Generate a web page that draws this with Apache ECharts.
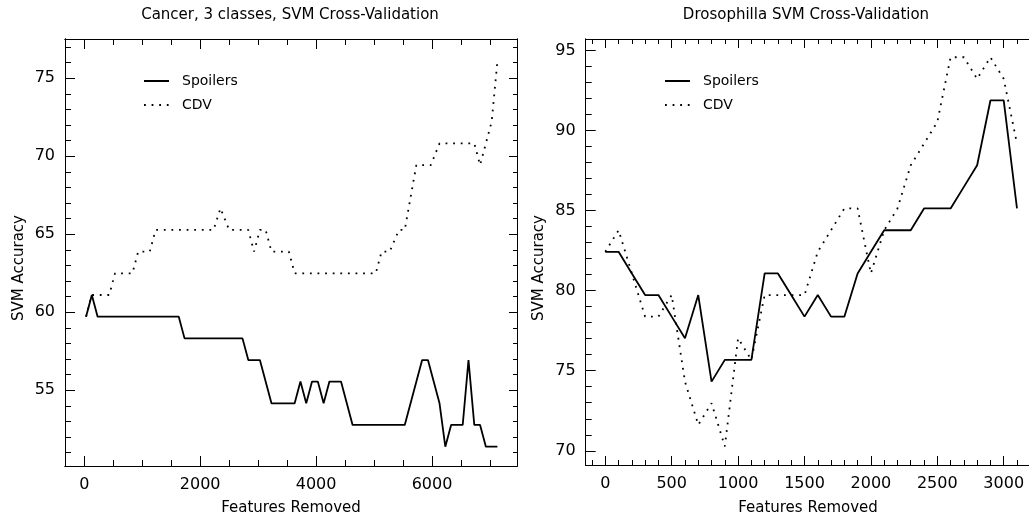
<!DOCTYPE html>
<html><head><meta charset="utf-8">
<script src="https://cdn.jsdelivr.net/npm/echarts@6/dist/echarts.min.js"></script>
<style>html,body{margin:0;padding:0;background:#fff}#c{width:1029px;height:516px}</style>
</head><body><div id="c"></div>
<script>
// ---- Data: left panel (Cancer, 3 classes) ----
const cancerSpoilersX = [30,130,230,1630,1730,2730,2830,3030,3230,3630,3730,3830,3930,4030,4130,4230,4430,4630,5530,5830,5930,6130,6230,6330,6530,6630,6730,6830,6930,7129];
const cancerSpoilersY = [59.72,61.11,59.72,59.72,58.33,58.33,56.94,56.94,54.17,54.17,55.56,54.17,55.56,55.56,54.17,55.56,55.56,52.78,52.78,56.94,56.94,54.17,51.39,52.78,52.78,56.94,52.78,52.78,51.39,51.39];
const cancerCdvX = [30,130,430,530,830,930,1130,1230,2230,2350,2500,2830,2930,3030,3130,3230,3530,3630,5030,5130,5270,5430,5530,5730,5980,6130,6730,6830,6930,7030,7129];
const cancerCdvY = [59.72,61.11,61.11,62.5,62.5,63.89,63.89,65.28,65.28,66.67,65.28,65.28,63.89,65.28,65.28,63.89,63.89,62.5,62.5,63.89,63.89,65.28,65.28,69.44,69.44,70.83,70.83,69.44,70.83,72.22,76.1];
// ---- Data: right panel (Drosophilla) ----
const drosoX = [0,100,200,300,400,500,600,700,800,900,1000,1100,1200,1300,1400,1500,1600,1700,1800,1900,2000,2100,2200,2300,2400,2500,2600,2700,2800,2900,3000,3100];
const drosoSpoilersY = [82.43,82.43,81.08,79.73,79.73,78.38,77.03,79.73,74.32,75.68,75.68,75.68,81.08,81.08,79.73,78.38,79.73,78.38,78.38,81.08,82.43,83.78,83.78,83.78,85.14,85.14,85.14,86.49,87.84,91.89,91.89,85.14];
const drosoCdvY = [82.43,83.78,81.08,78.38,78.38,79.73,74.32,71.62,72.97,70.27,77.03,75.68,79.73,79.73,79.73,79.73,82.43,83.78,85.14,85.14,81.08,83.78,85.14,87.84,89.19,90.54,94.59,94.59,93.24,94.59,93.24,89.19];
// ---- Tick values ----
const cancerXMajor = [0,2000,4000,6000];
const cancerXMinor = [0,500,1000,1500,2000,2500,3000,3500,4000,4500,5000,5500,6000,6500,7000];
const cancerYMajor = [55,60,65,70,75];
const cancerYMinor = [51,52,53,54,55,56,57,58,59,60,61,62,63,64,65,66,67,68,69,70,71,72,73,74,75,76,77];
const drosoXMajor = [0,500,1000,1500,2000,2500,3000];
const drosoXMinor = [-100,0,100,200,300,400,500,600,700,800,900,1000,1100,1200,1300,1400,1500,1600,1700,1800,1900,2000,2100,2200,2300,2400,2500,2600,2700,2800,2900,3000,3100];
const drosoYMajor = [70,75,80,85,90,95];
const drosoYMinor = [70,71,72,73,74,75,76,77,78,79,80,81,82,83,84,85,86,87,88,89,90,91,92,93,94,95];

const FONT = 'DejaVu Sans';
const zip = (xs, ys) => xs.map((x, i) => [x, ys[i]]);
const plain = v => String(v);

function xAxes(g, min, max, major, minor, majLen, minLen) {
  const base = { type: 'value', gridIndex: g, min, max, splitLine: { show: false },
    axisLine: { show: true, onZero: false, lineStyle: { color: '#000', width: 1 } } };
  return [
    Object.assign({}, base, { position: 'bottom',
      axisTick: { inside: true, length: majLen, customValues: major, lineStyle: { color: '#000' } },
      axisLabel: { customValues: major, formatter: plain, margin: 11, color: '#000', fontFamily: FONT, fontSize: 16 } }),
    Object.assign({}, base, { position: 'bottom',
      axisTick: { inside: true, length: minLen, customValues: minor, lineStyle: { color: '#000' } },
      axisLabel: { show: false } }),
    Object.assign({}, base, { position: 'top',
      axisTick: { inside: true, length: majLen, customValues: major, lineStyle: { color: '#000' } },
      axisLabel: { show: false } }),
    Object.assign({}, base, { position: 'top',
      axisTick: { inside: true, length: minLen, customValues: minor, lineStyle: { color: '#000' } },
      axisLabel: { show: false } })
  ];
}
function yAxes(g, min, max, major, minor, majLen, minLen, rMaj, rMin, showRight) {
  const base = { type: 'value', gridIndex: g, min, max, splitLine: { show: false },
    axisLine: { show: true, onZero: false, lineStyle: { color: '#000', width: 1 } } };
  return [
    Object.assign({}, base, { position: 'left',
      axisTick: { inside: true, length: majLen, customValues: major, lineStyle: { color: '#000' } },
      axisLabel: { customValues: major, formatter: plain, margin: 10, color: '#000', fontFamily: FONT, fontSize: 16 } }),
    Object.assign({}, base, { position: 'left',
      axisTick: { inside: true, length: minLen, customValues: minor, lineStyle: { color: '#000' } },
      axisLabel: { show: false } }),
    Object.assign({}, base, { position: 'right', show: showRight,
      axisTick: { inside: true, length: rMaj, customValues: major, lineStyle: { color: '#000' } },
      axisLabel: { show: false } }),
    Object.assign({}, base, { position: 'right', show: showRight,
      axisTick: { inside: true, length: rMin, customValues: minor, lineStyle: { color: '#000' } },
      axisLabel: { show: false } })
  ];
}

const solid = { color: '#000', width: 1.8, type: 'solid' };
const dotted = { color: '#000', width: 1.8, type: [1.8, 5.8] };
function ser(name, data, xi, yi, ls) {
  return { name, type: 'line', data, xAxisIndex: xi, yAxisIndex: yi, symbol: 'none', showSymbol: false,
    lineStyle: ls, itemStyle: { color: '#000' }, animation: false, silent: true };
}
function legendAt(left) {
  return { left, top: 74, padding: 0, orient: 'vertical', itemWidth: 25, itemHeight: 14, itemGap: 10,
    selectedMode: false, data: ['Spoilers', 'CDV'],
    itemStyle: { opacity: 0 },
    textStyle: { color: '#000', fontFamily: FONT, fontSize: 14, padding: [0, 0, 0, 8] } };
}

const txt = (text, x, y, size, rot) => ({ type: 'text', x, y, rotation: rot || 0,
  style: { text, fill: '#000', font: size + 'px "' + FONT + '"', textAlign: 'center', textVerticalAlign: 'middle' } });

const chart = echarts.init(document.getElementById('c'), null, { renderer: 'canvas' });
chart.setOption({
  animation: false,
  backgroundColor: '#fff',
  grid: [
    { left: 65, top: 39, width: 452, height: 427 },
    { left: 585.7, top: 39, width: 443.3, height: 426 }
  ],
  xAxis: [].concat(
    xAxes(0, -333, 7467, cancerXMajor, cancerXMinor, 10, 6),
    xAxes(1, -147.5, 3190.5, drosoXMajor, drosoXMinor, 9, 5)
  ),
  yAxis: [].concat(
    yAxes(0, 50.15, 77.52, cancerYMajor, cancerYMinor, 10, 6, 8, 4, true),
    yAxes(1, 69.11, 95.73, drosoYMajor, drosoYMinor, 10, 6, 8, 4, false)
  ),
  legend: [legendAt(143), legendAt(664)],
  series: [
    ser('Spoilers', zip(cancerSpoilersX, cancerSpoilersY), 0, 0, solid),
    ser('CDV', zip(cancerCdvX, cancerCdvY), 0, 0, dotted),
    ser('Spoilers', zip(drosoX, drosoSpoilersY), 4, 4, solid),
    ser('CDV', zip(drosoX, drosoCdvY), 4, 4, dotted)
  ],
  graphic: [
    txt('Cancer, 3 classes, SVM Cross-Validation', 290, 15, 15),
    txt('Drosophilla SVM Cross-Validation', 806, 15, 15),
    txt('Features Removed', 291, 508, 15),
    txt('Features Removed', 808, 508, 15),
    txt('SVM Accuracy', 19, 268, 15, Math.PI / 2),
    txt('SVM Accuracy', 539, 268, 15, Math.PI / 2)
  ]
});
</script></body></html>
